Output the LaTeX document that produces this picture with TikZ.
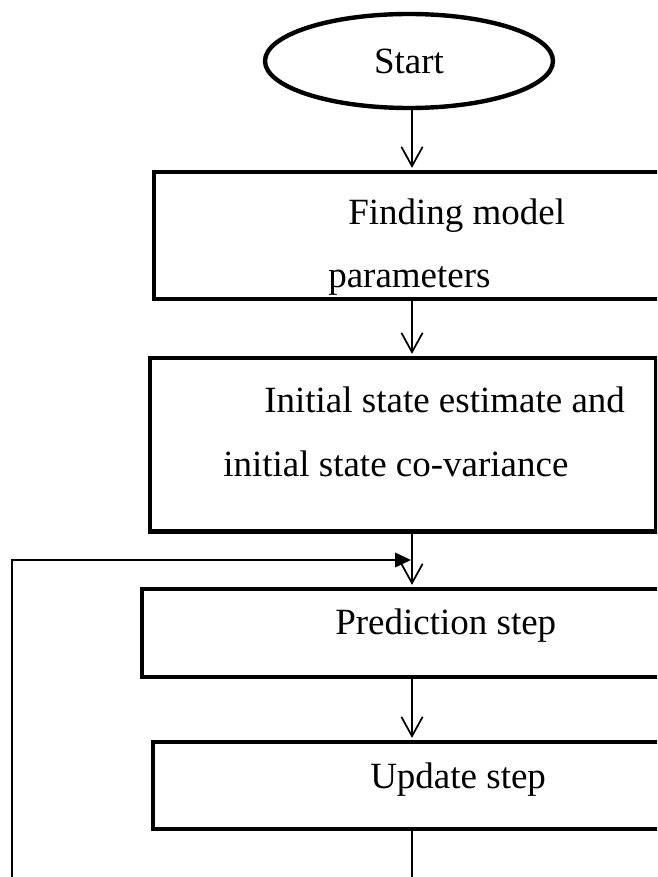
\documentclass[tikz,border=0pt]{standalone}
\usepackage{fontspec}
\setmainfont{Liberation Serif}
\usetikzlibrary{shapes.geometric,arrows.meta}

\tikzset{
  stepbox/.style={draw, line width=3.2pt, rectangle, inner sep=0pt, anchor=north west},
  terminal/.style={draw, line width=3.3pt, ellipse, inner sep=0pt,
                   minimum width=216pt, minimum height=70.5pt},
  txt/.style={inner sep=0pt, anchor=base west,
              font=\fontsize{27.75pt}{33pt}\selectfont},
  flow/.style={line width=1.3pt, shorten >=1.6pt,
               -{Straight Barb[length=14.5pt, width=16pt, line width=1.3pt]}},
  plain/.style={line width=1.3pt},
  back/.style={line width=1.3pt, -{Triangle[length=12pt, width=11pt]}},
}

\begin{document}
\begin{tikzpicture}[x=0.75pt, y=-0.75pt]
  \clip (0,0) rectangle (657,877);

  % vertical axis of the flow
  \coordinate (col) at (412,0);

  % terminal
  \node[terminal, font=\fontsize{27.75pt}{33pt}\selectfont] (start) at (409,61) {Start};

  % text lines of the process boxes
  \node[txt] (find1) at (348,224) {Finding model};
  \node[txt] (find2) at (328,287) {parameters};
  \node[txt] (init1) at (264,412) {Initial state estimate and};
  \node[txt] (init2) at (223,476) {initial state co-variance};
  \node[txt] (pred1) at (335,634) {Prediction step};
  \node[txt] (upd1)  at (370,788) {Update step};

  % process boxes
  \node[stepbox, minimum width=388.5pt, minimum height=95.25pt] (find) at (152,170) {};
  \node[stepbox, minimum width=379.5pt, minimum height=130pt]   (init) at (148,356) {};
  \node[stepbox, minimum width=397.5pt, minimum height=66pt]    (pred) at (140,587) {};
  \node[stepbox, minimum width=389.25pt, minimum height=65.25pt] (upd) at (151,740) {};

  % main flow
  \draw[flow] (start.south -| col) -- (find.north -| col);
  \draw[flow] (find.south -| col) -- (init.north -| col);
  \draw[flow] (init.south -| col) -- (pred.north -| col);
  \draw[flow] (pred.south -| col) -- (upd.north -| col);

  % loop back from the update step
  \coordinate (tail) at (412,880);
  \coordinate (loop) at (12,880);
  \coordinate (ret)  at (411,560);
  \draw[plain] (upd.south -| col) -- (tail);
  \draw[back] (loop) |- (ret);
\end{tikzpicture}
\end{document}
